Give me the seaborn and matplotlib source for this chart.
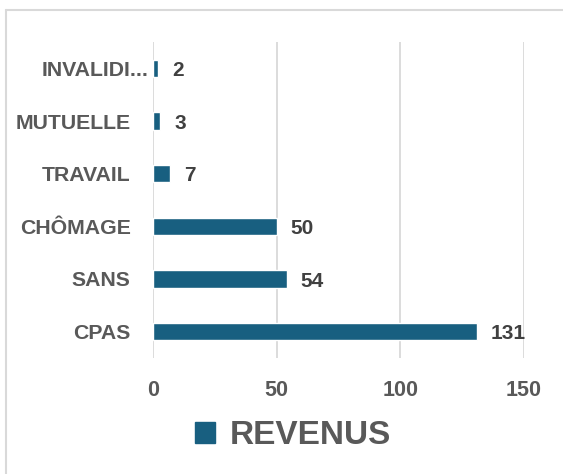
import matplotlib
matplotlib.use("Agg")
import matplotlib.pyplot as plt
import matplotlib.transforms as mtransforms
import seaborn as sns
import pandas as pd
from matplotlib.patches import Rectangle
from matplotlib.lines import Line2D

categories = ["INVALIDI...", "MUTUELLE", "TRAVAIL", "CHÔMAGE", "SANS", "CPAS"]
values = [2, 3, 7, 50, 54, 131]
xticks = [0, 50, 100, 150]
series_name = "REVENUS"

sns.set_theme(style="white")
plt.rcParams['font.family'] = ['Liberation Sans', 'DejaVu Sans']

BAR = "#185f80"
TXT = "#595959"
LBL = "#404040"

df = pd.DataFrame({"cat": categories, "val": values})

fig = plt.figure(figsize=(5.63, 4.74), dpi=100)
ax = fig.add_axes([153/563, 1-358/474, (524-153)/563, (358-42)/474])

sns.barplot(data=df, y="cat", x="val", orient="h", color=BAR, width=0.33,
            saturation=1, ax=ax, order=categories)

ax.set_xlim(0, 150)
ax.set_xticks(xticks)
ax.set_xticklabels([str(t) for t in xticks], fontsize=15.5, fontweight="bold", color=TXT)
ax.set_yticklabels(categories, fontsize=15.3, fontweight="bold", color=TXT)
ax.tick_params(axis="x", length=0, pad=16)
ax.tick_params(axis="y", length=0, pad=16)
ax.set_xlabel("")
ax.set_ylabel("")
for s in ax.spines.values():
    s.set_visible(False)
ax.xaxis.grid(True, color="#d9d9d9", linewidth=1.3)
ax.set_axisbelow(True)

# truncated label sits closer to the axis in the reference
lab0 = ax.get_yticklabels()[0]
lab0.set_transform(lab0.get_transform() + mtransforms.ScaledTranslation(0.18, 0, fig.dpi_scale_trans))

for i, v in enumerate(values):
    ax.annotate(str(v), xy=(v, i), xytext=(10, -1.5), textcoords="offset points",
                va="center", ha="left", fontsize=15, fontweight="bold", color=LBL)

# legend
handle = Rectangle((0, 0), 1, 1, color=BAR)
leg = fig.legend([handle], [series_name], loc="center", bbox_to_anchor=(293/563, 1-436/474),
                 frameon=False, prop={"size": 24, "weight": "bold"}, handlelength=0.6,
                 handleheight=0.6, handletextpad=0.45)
for t in leg.get_texts():
    t.set_color(TXT)

# outer border (top and left visible)
fig.add_artist(Line2D([6/563, 1], [1-9.5/474, 1-9.5/474], color="#d9d9d9", linewidth=1.5,
                      transform=fig.transFigure))
fig.add_artist(Line2D([6/563, 6/563], [0, 1-9.5/474], color="#d9d9d9", linewidth=1.5,
                      transform=fig.transFigure))

fig.savefig("out.png", dpi=100, facecolor="white")
